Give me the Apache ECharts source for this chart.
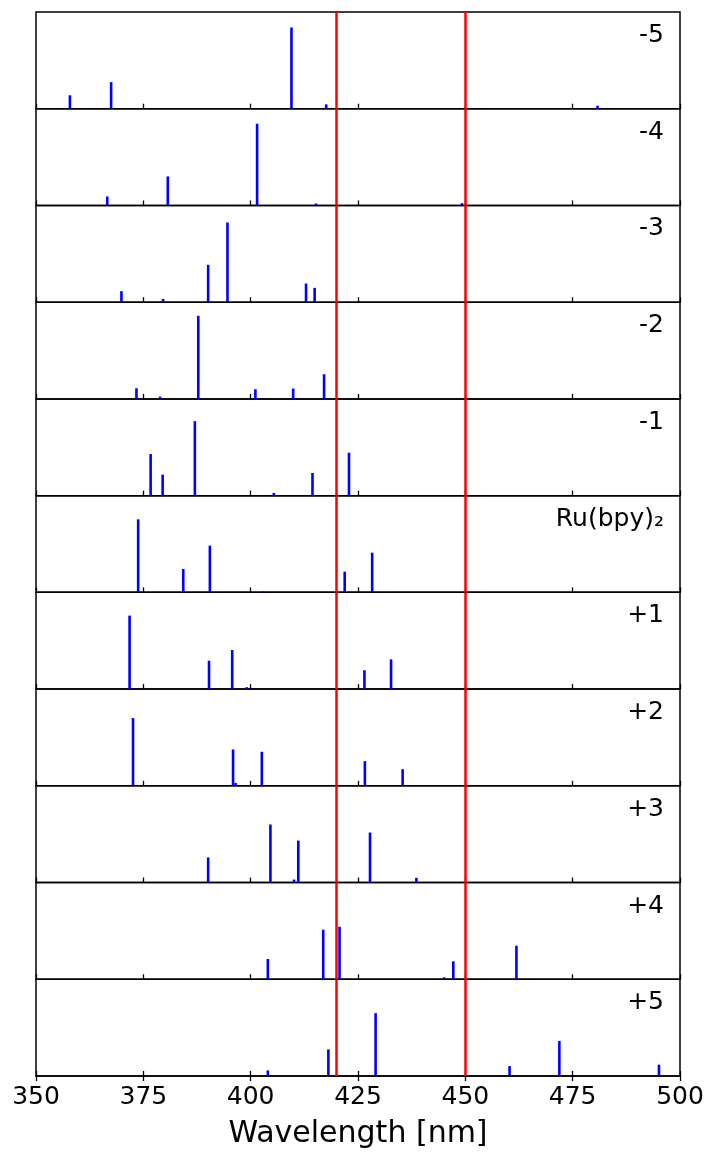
<!DOCTYPE html>
<html>
<head>
<meta charset="utf-8">
<script src="https://cdn.jsdelivr.net/npm/echarts@6/dist/echarts.min.js"></script>
<style>
html,body{margin:0;padding:0;background:#fff;}
#chart{width:707px;height:1152px;}
</style>
</head>
<body>
<div id="chart"></div>
<script>
// ---- data (wavelength in nm, relative intensity as fraction of panel height) ----
const panelLabels = ["-5", "-4", "-3", "-2", "-1", "Ru(bpy)\u2082", "+1", "+2", "+3", "+4", "+5"];
const xTicks = { min: 350, max: 500, interval: 25 };
const refLines = [420, 450];

const wlM5 = [357.9, 367.5, 409.5, 417.6, 480.8];
const inM5 = [0.139, 0.275, 0.840, 0.045, 0.031];
const wlM4 = [366.6, 380.7, 401.5, 415.2, 449.2];
const inM4 = [0.093, 0.300, 0.845, 0.020, 0.024];
const wlM3 = [369.9, 379.6, 390.1, 394.6, 412.9, 414.9];
const inM3 = [0.114, 0.034, 0.386, 0.824, 0.193, 0.148];
const wlM2 = [373.4, 378.9, 387.8, 401.1, 409.9, 417.1];
const inM2 = [0.110, 0.024, 0.859, 0.100, 0.107, 0.255];
const wlM1 = [376.7, 379.5, 387.0, 405.4, 414.4, 422.9];
const inM1 = [0.430, 0.217, 0.770, 0.028, 0.234, 0.444];
const wlRu = [373.8, 384.3, 390.5, 402.9, 421.9, 428.3];
const inRu = [0.755, 0.241, 0.483, 0.010, 0.214, 0.410];
const wlP1 = [371.8, 390.3, 395.7, 399.1, 426.5, 432.7];
const inP1 = [0.760, 0.293, 0.404, 0.020, 0.195, 0.307];
const wlP2 = [372.6, 395.9, 396.5, 402.6, 426.6, 435.4];
const inP2 = [0.700, 0.376, 0.030, 0.352, 0.255, 0.172];
const wlP3 = [390.1, 404.6, 410.1, 411.1, 427.8, 438.6];
const inP3 = [0.260, 0.600, 0.031, 0.434, 0.517, 0.049];
const wlP4 = [404.0, 416.9, 420.7, 445.1, 447.2, 461.9];
const inP4 = [0.210, 0.512, 0.543, 0.020, 0.186, 0.347];
const wlP5 = [404.0, 418.1, 429.1, 460.3, 471.9, 495.1];
const inP5 = [0.058, 0.275, 0.650, 0.103, 0.361, 0.117];

const panelWl = [wlM5, wlM4, wlM3, wlM2, wlM1, wlRu, wlP1, wlP2, wlP3, wlP4, wlP5];
const panelIn = [inM5, inM4, inM3, inM2, inM1, inRu, inP1, inP2, inP3, inP4, inP5];

// ---- layout ----
const FONT = "DejaVu Sans";
const LEFT = 36, RIGHT = 27, TOP = 12, BOTTOM_Y = 1076;
const N = panelLabels.length;
const PH = (BOTTOM_Y - TOP) / N;

const grids = [], xAxes = [], yAxes = [], series = [], titles = [];
for (let i = 0; i < N; i++) {
  const top = TOP + i * PH;
  grids.push({ left: LEFT, right: RIGHT, top: top, height: PH, show: true,
    borderColor: '#000', borderWidth: 1.5, backgroundColor: 'transparent', containLabel: false });
  xAxes.push({ type: 'value', gridIndex: i, min: xTicks.min, max: xTicks.max, interval: xTicks.interval,
    axisLine: { show: false }, splitLine: { show: false },
    axisTick: { show: true, inside: true, length: 5, lineStyle: { color: '#000', width: 1.3 } },
    axisLabel: { show: false } });
  yAxes.push({ type: 'value', gridIndex: i, min: 0, max: 1, show: false });
  series.push({
    type: 'bar', xAxisIndex: i, yAxisIndex: i, barWidth: 2.6,
    itemStyle: { color: '#0000ff' }, silent: true, animation: false,
    data: panelWl[i].map((w, k) => [w, panelIn[i][k]]),
    markLine: {
      silent: true, symbol: 'none', animation: false,
      lineStyle: { color: '#ff0000', width: 2.5, type: 'solid' },
      label: { show: false },
      data: refLines.map(v => ({ xAxis: v }))
    },
    z: 3
  });
  titles.push({ text: panelLabels[i], right: 43, top: top + 11, padding: 0,
    textStyle: { fontFamily: FONT, fontSize: 25, fontWeight: 'normal', color: '#000' } });
}
// overlay grid for the bottom axis: outward ticks, labels and axis title
const last = N;
grids.push({ left: LEFT, right: RIGHT, top: TOP + (N - 1) * PH, height: PH, show: false });
xAxes.push({ type: 'value', gridIndex: last, min: xTicks.min, max: xTicks.max, interval: xTicks.interval,
  position: 'bottom',
  axisLine: { show: true, lineStyle: { color: '#000', width: 1.5 } }, splitLine: { show: false },
  axisTick: { show: true, inside: false, length: 5, lineStyle: { color: '#000', width: 1.3 } },
  axisLabel: { show: true, fontFamily: FONT, fontSize: 25, color: '#000', margin: 9 },
  name: 'Wavelength [nm]', nameLocation: 'middle', nameGap: 43,
  nameTextStyle: { fontFamily: FONT, fontSize: 30, color: '#000' } });
yAxes.push({ type: 'value', gridIndex: last, min: 0, max: 1, show: false });

const chart = echarts.init(document.getElementById('chart'), null, { renderer: 'canvas' });
chart.setOption({
  backgroundColor: '#fff',
  animation: false,
  title: titles,
  grid: grids,
  xAxis: xAxes,
  yAxis: yAxes,
  series: series
});
</script>
</body>
</html>
